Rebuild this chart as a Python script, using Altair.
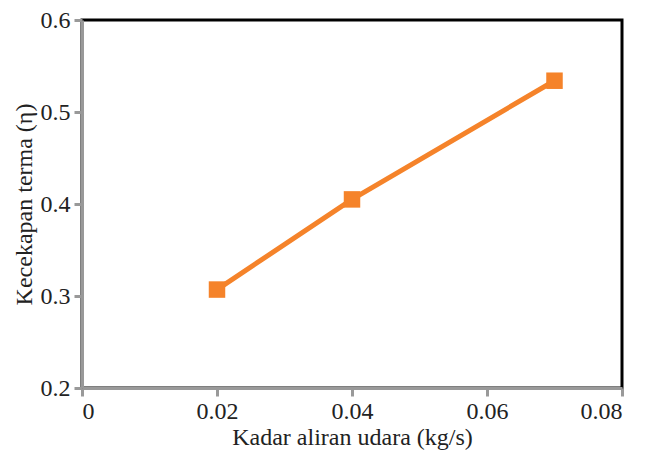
import altair as alt
import pandas as pd

flow_rate = [0.02, 0.04, 0.07]
efficiency = [0.307, 0.405, 0.534]
x_ticks = [0, 0.02, 0.04, 0.06, 0.08]
y_ticks = [0.2, 0.3, 0.4, 0.5, 0.6]

df = pd.DataFrame({"x": flow_rate, "y": efficiency})
font = "Liberation Serif"
orange = "#F5832A"
FS = 24

x_enc = alt.X("x:Q", scale=alt.Scale(domain=[0, 0.08], nice=False),
              axis=alt.Axis(values=x_ticks, title="Kadar aliran udara (kg/s)",
                            labelExpr="datum.value == 0 ? '0' : format(datum.value, '.2f')",
                            grid=False, domainColor="#999999", domainWidth=3,
                            tickColor="#999999", tickWidth=3, tickSize=8,
                            labelFont=font, labelFontSize=FS, labelColor="#222222",
                            labelPadding=3, titleFont=font, titleFontSize=FS,
                            titleFontWeight="normal", titleColor="#222222",
                            titlePadding=2, zindex=1))
y_enc = alt.Y("y:Q", scale=alt.Scale(domain=[0.2, 0.6], nice=False, zero=False),
              axis=alt.Axis(values=y_ticks, title="Kecekapan terma (η)",
                            labelExpr="format(datum.value, '.1f')",
                            grid=False, domainColor="#999999", domainWidth=3,
                            tickColor="#999999", tickWidth=3, tickSize=8,
                            labelFont=font, labelFontSize=FS, labelColor="#222222",
                            labelPadding=4, titleFont=font, titleFontSize=FS,
                            titleFontWeight="normal", titleColor="#222222",
                            titlePadding=4, zindex=1))

line = alt.Chart(df).mark_line(color=orange, strokeWidth=5).encode(x=x_enc, y=y_enc)
pts = alt.Chart(df).mark_point(shape="square", filled=True, color=orange, size=272, opacity=1).encode(x="x:Q", y="y:Q")

chart = (line + pts).properties(
    width=540, height=368,
    background="white",
    autosize=alt.AutoSizeParams(type="none"),
    padding={"left": 82, "top": 20, "right": 30, "bottom": 69},
).configure_view(stroke="black", strokeWidth=3)

chart.save("out.html", embed_options={"renderer": "svg", "actions": False})
